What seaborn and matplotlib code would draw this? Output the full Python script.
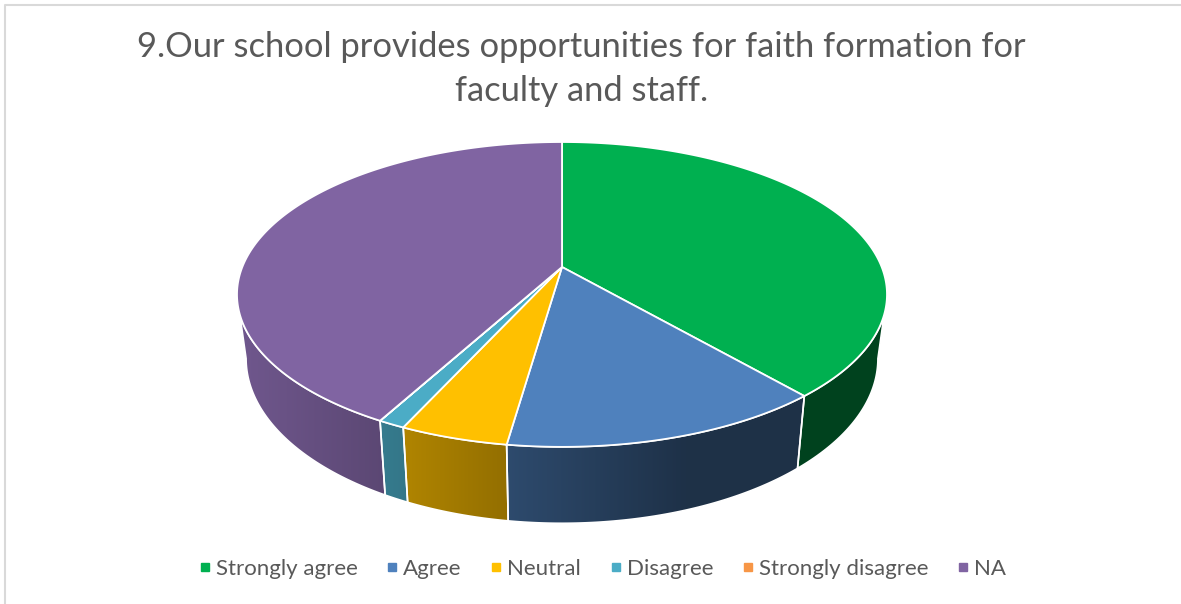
import numpy as np
import matplotlib
matplotlib.use("Agg")
import matplotlib.pyplot as plt
import seaborn as sns
from matplotlib.lines import Line2D
from matplotlib.patches import Polygon
from matplotlib.path import Path
from matplotlib.transforms import Transform
from matplotlib.colors import to_rgb

categories = ["Strongly agree", "Agree", "Neutral", "Disagree", "Strongly disagree", "NA"]
counts = [34, 12, 4, 1, 0, 37]
colors = ["#00B050", "#4F81BD", "#FFC000", "#4BACC6", "#F79646", "#8064A2"]
title = "9.Our school provides opportunities for faith formation for\nfaculty and staff."

sns.set_theme(style="white")
plt.rcParams["font.family"] = ["Lato", "DejaVu Sans"]
palette = sns.color_palette(colors)
TEXT = "#595959"

# perspective of the pie disc: unit circle -> image pixels
K = 0.18
A, B = 319.7, 147.5
CX = 562.0


class Disc(Transform):
    input_dims = output_dims = 2
    is_affine = False

    def __init__(self, cy=267.0, sx=1.0, sy=1.0):
        super().__init__()
        self.cy, self.sx, self.sy = cy, sx, sy

    def transform_non_affine(self, pts):
        pts = np.asarray(pts, float)
        d = 1 + K * pts[:, 1]
        return np.column_stack([CX + self.sx * A * pts[:, 0] / d,
                                self.cy - self.sy * B * pts[:, 1] / d])

    def transform_path_non_affine(self, path):
        # sample the curves finely so the perspective keeps the rim smooth
        t = np.linspace(0, 1, 40)
        parts = [curve(t) for curve, code in path.iter_bezier()
                 if code != Path.MOVETO]
        return Path(self.transform_non_affine(np.vstack(parts)), closed=True)


top = Disc()
bottom = Disc(cy=329.0, sx=0.972, sy=1.08)

fig = plt.figure(figsize=(11.81, 6.04), dpi=100, facecolor="white")
ax = fig.add_axes([0, 0, 1, 1])

wedges, _ = ax.pie(counts, colors=palette, startangle=90, counterclock=False,
                   wedgeprops=dict(edgecolor="white", linewidth=1.3))
for w in wedges:
    w.set_transform(top + ax.transData)
    w.set_zorder(5)


def on_circle(deg):
    r = np.radians(deg)
    return np.column_stack([np.sin(r), np.cos(r)])


def shade(x):
    return np.clip(0.517 - 0.3575 * (x - CX) / 325.0, 0.38, 1.0)


# side wall, visible between the two silhouette angles
vis_lo = 90 + np.degrees(np.arcsin(K))
vis_hi = 360 - vis_lo
edges = np.concatenate([[0], np.cumsum(counts)]) / np.sum(counts) * 360
for i, col in enumerate(palette):
    a0, a1 = max(edges[i], vis_lo), min(edges[i + 1], vis_hi)
    if a1 <= a0:
        continue
    ang = np.linspace(a0, a1, max(int((a1 - a0) * 3), 2))
    up = top.transform_non_affine(on_circle(ang))
    lo = bottom.transform_non_affine(on_circle(ang))
    ring = np.vstack([up, lo[::-1]])
    x0, x1 = ring[:, 0].min(), ring[:, 0].max()
    y0, y1 = ring[:, 1].min(), ring[:, 1].max()
    xs = np.linspace(x0, x1, 200)
    grad = (np.array(to_rgb(col))[None, :] * shade(xs)[:, None])[None, :, :]
    wall = Polygon(ring, closed=True, facecolor="none", edgecolor="white", lw=1.2, zorder=3)
    ax.add_patch(wall)
    im = ax.imshow(grad, extent=(x0, x1, y1, y0), aspect="auto", zorder=2,
                   interpolation="bilinear")
    im.set_clip_path(wall)

ax.set_aspect("auto")
ax.set_xlim(0, 1181)
ax.set_ylim(604, 0)
ax.set_axis_off()

# chart frame remains along the top and left of the crop
ax.plot([5, 5, 1181], [604, 5, 5], color="#D9D9D9", lw=1.5, zorder=1)

ax.text(581.5, 69, title, ha="center", va="center", fontsize=24.8, color=TEXT,
        linespacing=1.48)

handles = [Line2D([], [], ls="", marker="s", ms=6, color=c) for c in palette]
ax.legend(handles, categories, loc="center", bbox_to_anchor=(601 / 1181, 1 - 569 / 604),
          ncol=6, frameon=False, fontsize=16, labelcolor=TEXT,
          handletextpad=0.1, columnspacing=1.155, handlelength=0.8)

fig.savefig("out.png", dpi=100)
